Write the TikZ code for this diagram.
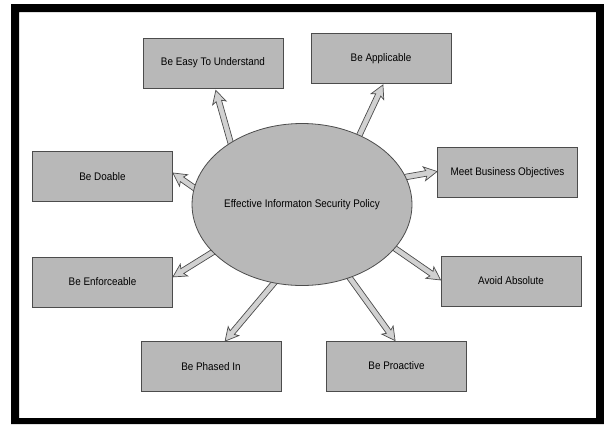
\documentclass[tikz,border=0pt]{standalone}
\usepackage{fontspec}
\setmainfont[FakeStretch=0.9]{Liberation Sans}
\usetikzlibrary{calc,shapes.geometric}
\pgfdeclarelayer{back}
\pgfsetlayers{back,main}
\definecolor{boxfill}{gray}{0.72}
\definecolor{arrowfill}{gray}{0.82}
\definecolor{edgegray}{gray}{0.3}

\tikzset{
  labelfont/.style={font=\fontsize{11}{13}\selectfont},
  goal/.style={draw=edgegray, line width=0.8pt, fill=boxfill,
    minimum width=140pt, minimum height=50pt, inner sep=0pt, labelfont},
  hub/.style={ellipse, draw=edgegray, line width=0.8pt, fill=boxfill,
    minimum width=192pt, minimum height=162pt, inner sep=0pt, labelfont},
  % hollow block arrow from the start point to the target point
  blockarrow/.style={draw=edgegray, line width=0.7pt, fill=arrowfill,
    line join=miter,
    to path={let \p1=(\tikztostart), \p2=(\tikztotarget),
      \n1={atan2(\y2-\y1,\x2-\x1)}, \n2={veclen(\x2-\x1,\y2-\y1)} in
      ($(\p1)+(\n1+90:2.8pt)$)
      -- ($(\p1)+(\n1:\n2-11pt)+(\n1+90:2.8pt)$)
      -- ($(\p1)+(\n1:\n2-13pt)+(\n1+90:7pt)$)
      -- (\p2)
      -- ($(\p1)+(\n1:\n2-13pt)+(\n1-90:7pt)$)
      -- ($(\p1)+(\n1:\n2-11pt)+(\n1-90:2.8pt)$)
      -- ($(\p1)+(\n1-90:2.8pt)$) -- cycle}}
}

\begin{document}
\begin{tikzpicture}[x=1pt, y=-1pt]
  \useasboundingbox (0,0) rectangle (604,424);

  % outer black frame
  \fill[black, even odd rule] (11,4) rectangle (604,424) (19,12) rectangle (596,418);

  % central policy
  \node[hub] (ell) at (302,204.5) {Effective Informaton Security Policy};

  % surrounding goals
  \node[goal] (easy)      at (213,63)      {Be Easy To Understand};
  \node[goal] (appl)      at (381,58.5)    {Be Applicable};
  \node[goal] (doable)    at (102.5,176.5) {Be Doable};
  \node[goal] (meet)      at (507.5,172.5) {Meet Business Objectives};
  \node[goal] (enforce)   at (102.5,282)   {Be Enforceable};
  \node[goal] (avoid)     at (511,281)     {Avoid Absolute};
  \node[goal] (phased)    at (211,366.5)   {Be Phased In};
  \node[goal] (proactive) at (396.5,366)   {Be Proactive};

  % arrow tails just inside the ellipse
  \coordinate (s1) at ($(ell.center)!0.97!(ell.140)$);
  \coordinate (s2) at ($(ell.center)!0.97!(ell.50)$);
  \coordinate (s3) at ($(ell.center)!0.97!(ell.172)$);
  \coordinate (s4) at ($(ell.center)!0.97!(ell.15)$);
  \coordinate (s5) at ($(ell.center)!0.97!(ell.208)$);
  \coordinate (s6) at ($(ell.center)!0.97!(ell.335)$);
  \coordinate (s7) at ($(ell.center)!0.97!(ell.251)$);
  \coordinate (s8) at ($(ell.center)!0.97!(ell.303)$);

  % arrow tips on the goal boxes
  \coordinate (e1) at ($(easy.south west)!0.52!(easy.south east)+(0,2)$);
  \coordinate (e2) at ($(appl.south west)!0.514!(appl.south east)+(0,1)$);
  \coordinate (e3) at ($(doable.north east)!0.43!(doable.south east)$);
  \coordinate (e4) at ($(meet.north west)!0.48!(meet.south west)$);
  \coordinate (e5) at ($(enforce.north east)!0.4!(enforce.south east)$);
  \coordinate (e6) at ($(avoid.north west)!0.48!(avoid.south west)$);
  \coordinate (e7) at ($(phased.north west)!0.6!(phased.north east)$);
  \coordinate (e8) at ($(proactive.north west)!0.49!(proactive.north east)$);

  \begin{pgfonlayer}{back}
    \foreach \i in {1,...,8}
      \draw[blockarrow] (s\i) to (e\i);
  \end{pgfonlayer}
\end{tikzpicture}
\end{document}
